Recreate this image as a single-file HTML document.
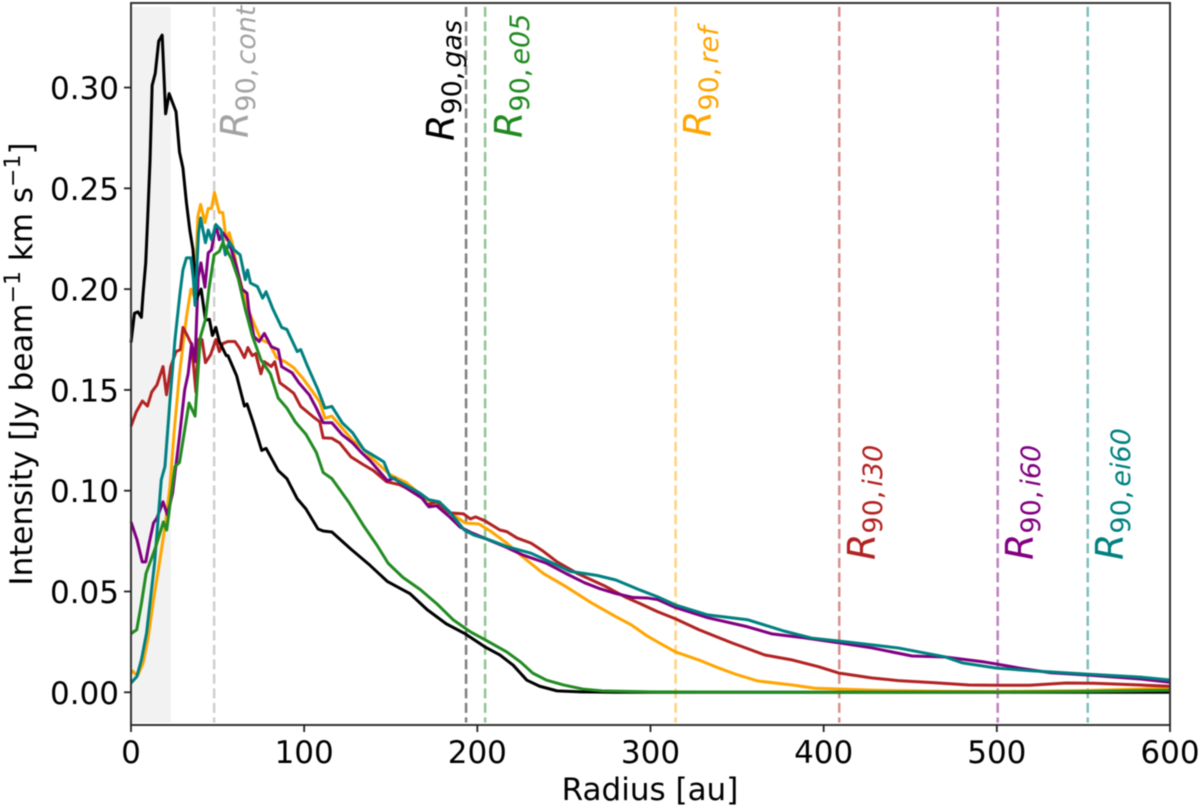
<!DOCTYPE html>
<html>
<head>
<meta charset="utf-8">
<title>Intensity radial profiles</title>
<style>
html,body{margin:0;padding:0;background:#fff;}
svg{display:block;font-family:"DejaVu Sans","Liberation Sans",sans-serif;filter:blur(0.4px);}
</style>
</head>
<body>
<svg id="chart" width="1200" height="808" viewBox="0 0 1200 808" xmlns="http://www.w3.org/2000/svg">
  <rect width="1200" height="808" fill="#fff"/>
  <g id="band"></g>
  <g id="vlines"></g>
  <g id="series"></g>
  <g id="spines"></g>
  <g id="xticks"></g>
  <g id="yticks"></g>

  <text x="650" y="800" font-size="31" text-anchor="middle" fill="#000">Radius [au]</text>
  <text transform="translate(32,364) rotate(-90)" font-size="31" text-anchor="middle" fill="#000">Intensity [Jy beam<tspan font-size="22" dy="-12">−1</tspan><tspan dy="12"> km s</tspan><tspan font-size="22" dy="-12">−1</tspan><tspan dy="12">]</tspan></text>

  <text transform="translate(248,138) rotate(-90)" fill="#a3a3a3" font-size="38"><tspan font-style="italic">R</tspan><tspan font-size="27" dy="7">90,</tspan><tspan font-size="27" font-style="italic" dx="4">cont</tspan></text>
  <text transform="translate(454,141) rotate(-90)" fill="#000" font-size="38"><tspan font-style="italic">R</tspan><tspan font-size="27" dy="7">90,</tspan><tspan font-size="27" font-style="italic" dx="4">gas</tspan></text>
  <text transform="translate(522,138) rotate(-90)" fill="#1f8a1f" font-size="38"><tspan font-style="italic">R</tspan><tspan font-size="27" dy="7">90,</tspan><tspan font-size="27" font-style="italic" dx="4">e05</tspan></text>
  <text transform="translate(711,137) rotate(-90)" fill="#ffa500" font-size="38"><tspan font-style="italic">R</tspan><tspan font-size="27" dy="7">90,</tspan><tspan font-size="27" font-style="italic" dx="4">ref</tspan></text>
  <text transform="translate(875,560) rotate(-90)" fill="#b22222" font-size="38"><tspan font-style="italic">R</tspan><tspan font-size="27" dy="7">90,</tspan><tspan font-size="27" font-style="italic" dx="4">i30</tspan></text>
  <text transform="translate(1033,560) rotate(-90)" fill="#800080" font-size="38"><tspan font-style="italic">R</tspan><tspan font-size="27" dy="7">90,</tspan><tspan font-size="27" font-style="italic" dx="4">i60</tspan></text>
  <text transform="translate(1123,560) rotate(-90)" fill="#008080" font-size="38"><tspan font-style="italic">R</tspan><tspan font-size="27" dy="7">90,</tspan><tspan font-size="27" font-style="italic" dx="4">ei60</tspan></text>
</svg>
<script>
const xTickValues = [0, 100, 200, 300, 400, 500, 600];
const yTickValues = [0, 0.05, 0.10, 0.15, 0.20, 0.25, 0.30];
const yTickLabels = ['0.00', '0.05', '0.10', '0.15', '0.20', '0.25', '0.30'];

const bandEndRadius = 23;
const r90Cont = 48;
const r90Gas = 193.5;
const r90E05 = 204.5;
const r90Ref = 314.5;
const r90I30 = 409;
const r90I60 = 500.5;
const r90Ei60 = 552.5;

const blackRadius = [0,2,4,6,7,8.5,9.6,11,12.2,14,16,18,20,22,26,28,30,32,34,35.8,37.7,40.5,43,45.3,47,49,51,55,56,61,65.5,67,70.5,75.5,78,85,90,96,101,108,111,116,127,138,148,161,171,182,193,204.4,213,220.6,228.6,236,246,260,280,600];
const blackIntensity = [0.1735,0.188,0.1887,0.186,0.198,0.213,0.2345,0.264,0.301,0.307,0.323,0.326,0.287,0.297,0.288,0.268,0.26,0.243,0.229,0.2195,0.195,0.2,0.1847,0.185,0.177,0.181,0.174,0.167,0.167,0.157,0.142,0.143,0.134,0.120,0.121,0.110,0.106,0.096,0.091,0.081,0.080,0.0795,0.071,0.063,0.055,0.049,0.041,0.034,0.029,0.0225,0.0185,0.0135,0.006,0.003,0.0007,0.0002,0,0];

const greenRadius = [0,1.5,3.3,6,8.7,14,18.7,20.6,25.4,28,33.5,37,40,43,45,48,51,53,58,62,66,70,75,80.5,85,90,95,101,107,111,116,126,134,142,148.5,157,167,176.5,186,196,204.5,217,225,232,240,250,261,272,300,400,500,550,600];
const greenIntensity = [0.029,0.030,0.031,0.044,0.059,0.0715,0.0845,0.0805,0.112,0.114,0.1435,0.137,0.176,0.185,0.2,0.217,0.2187,0.223,0.215,0.205,0.19,0.177,0.165,0.158,0.146,0.141,0.134,0.128,0.119,0.109,0.106,0.094,0.083,0.073,0.064,0.057,0.051,0.044,0.036,0.030,0.026,0.020,0.015,0.0095,0.006,0.0036,0.0016,0.0007,0.0002,0,0.0001,0.0004,0.001];

const orangeRadius = [0,1,2,4,7,10,13,16.7,19.6,22.5,25,28,32,34.6,36.7,38.6,40.2,42.7,44.6,46.5,48.2,51,53,55,56.7,59,61,65,66,70,75,80,84,89,94,99,105,109,112,116,123,128,134,138,149.5,159,171,182,193,201,208,217,226,238,251,266,280,289,298,304,314.5,328,339.5,349,362,382,395,409,430,470,500,550,600];
const orangeIntensity = [0.0097,0.0105,0.0095,0.0085,0.0145,0.0275,0.046,0.0657,0.082,0.102,0.13,0.158,0.186,0.2,0.196,0.236,0.242,0.233,0.24,0.24,0.248,0.238,0.238,0.2245,0.228,0.221,0.211,0.198,0.193,0.185,0.175,0.173,0.166,0.164,0.161,0.156,0.149,0.144,0.136,0.137,0.130,0.125,0.121,0.117,0.108,0.104,0.0955,0.0905,0.084,0.0835,0.0797,0.074,0.0673,0.059,0.0525,0.0443,0.0375,0.0334,0.028,0.025,0.020,0.016,0.012,0.009,0.0056,0.0036,0.002,0.0016,0.001,0.0005,0.0004,0.0008,0.002];

const redRadius = [0,3,6.6,9.5,12,15,18.5,20.5,23,26,28.5,30,32.5,35,37.5,39,41,43,46,49,51,53,56,60,62.5,65.5,67.5,70,72,75,77,81,83,86,90,94,98,105,109,111,116,120.5,127,134,140,147.5,155,167,171,176.5,184,192,196,199,204.5,213,217,223,231,238,246,257.6,273,286,294,304,314.5,328,347,366,382,397,409,428,443,463,484,500,519,540,556,583,600];
const redIntensity = [0.132,0.139,0.1445,0.142,0.149,0.1525,0.1616,0.1476,0.1616,0.169,0.17,0.181,0.177,0.1725,0.149,0.175,0.175,0.1635,0.1675,0.175,0.169,0.173,0.174,0.174,0.171,0.166,0.171,0.167,0.168,0.158,0.164,0.1616,0.164,0.1535,0.151,0.1483,0.1418,0.1368,0.1342,0.1262,0.126,0.1237,0.1168,0.113,0.11,0.1045,0.103,0.098,0.093,0.0945,0.089,0.0885,0.086,0.087,0.085,0.0805,0.0797,0.0765,0.074,0.07,0.0647,0.059,0.053,0.047,0.044,0.040,0.0364,0.031,0.0245,0.0185,0.016,0.0127,0.0095,0.0071,0.0058,0.0048,0.0036,0.0035,0.0035,0.0046,0.0045,0.0036,0.003];

const purpleRadius = [0,3.5,6.5,8.5,10.5,13,15,18.5,21,24,28,31,33,35,37,38.8,40.4,42.7,44.6,46.5,49,51,53,56,58,61,64,67,68,71,74,77,81,85,87,93,97,103,107,111,116,122,128,133,138,148,152,159,168,172,176.5,184,190,197,204,215,226.6,240,251,262,271,280,290,298,304,314.5,333,356,370,389,409,428,451,470,493,500,513,531,552,583,600];
const purpleIntensity = [0.0845,0.0756,0.0647,0.0647,0.074,0.084,0.0865,0.0945,0.088,0.0988,0.127,0.15,0.158,0.173,0.164,0.206,0.213,0.201,0.218,0.2195,0.232,0.2245,0.228,0.2245,0.2195,0.211,0.2,0.198,0.19,0.1765,0.174,0.178,0.1715,0.17,0.1615,0.1585,0.1535,0.1475,0.141,0.1337,0.1337,0.1277,0.1237,0.119,0.115,0.105,0.1062,0.1013,0.0963,0.092,0.0925,0.087,0.082,0.079,0.0765,0.0726,0.068,0.064,0.059,0.0543,0.0513,0.049,0.047,0.0468,0.046,0.042,0.037,0.0325,0.029,0.027,0.0245,0.022,0.018,0.0175,0.015,0.014,0.012,0.0097,0.0086,0.0066,0.005];

const tealRadius = [0,3.3,6,9,11.6,13.6,17.5,19.6,22.4,25.4,28.3,30,32,34.6,36,37,38,39,40.2,43,44.6,46.5,49,52,54.5,56.7,59.5,63,66,67.3,69,73,76,78,82,87,90,96,98,102,108,112,116,122,128,134.5,139,146,149.5,155,167,172,178,184,192.5,198,207,217,231,242,253.6,269,280,294,304,314.5,333,356,377,393,413,443,470,480,500,521,552,583,600];
const tealIntensity = [0.0046,0.0077,0.016,0.0295,0.049,0.064,0.1055,0.112,0.1436,0.175,0.198,0.2095,0.2155,0.2155,0.205,0.192,0.21,0.228,0.2353,0.223,0.2293,0.2245,0.232,0.2293,0.217,0.2235,0.2195,0.217,0.2047,0.2095,0.203,0.2013,0.1955,0.1987,0.19,0.181,0.18,0.169,0.17,0.1616,0.15,0.141,0.1418,0.1337,0.1287,0.1203,0.118,0.1143,0.107,0.1045,0.0987,0.0955,0.0945,0.0895,0.0805,0.078,0.0756,0.0723,0.069,0.0647,0.06,0.058,0.0557,0.0507,0.0474,0.0433,0.0384,0.036,0.0304,0.0269,0.025,0.022,0.0176,0.0146,0.012,0.0106,0.009,0.0075,0.0061];

const svgNS = 'http://www.w3.org/2000/svg';
const plotLeft = 131, plotRight = 1170, plotTop = 3, plotBottom = 725;
const xMin = 0, xMax = 600, yMin = -0.01623, yMax = 0.34194;
function xScale(v){ return plotLeft + (v - xMin) / (xMax - xMin) * (plotRight - plotLeft); }
function yScale(v){ return plotBottom - (v - yMin) / (yMax - yMin) * (plotBottom - plotTop); }
function mk(tag, parentId){
  const el = document.createElementNS(svgNS, tag);
  document.getElementById(parentId).appendChild(el);
  return el;
}

const bandRect = mk('rect', 'band');


bandRect.setAttribute('x', xScale(0));
bandRect.setAttribute('y', yScale(0.34));
bandRect.setAttribute('width', xScale(bandEndRadius) - xScale(0));
bandRect.setAttribute('height', yScale(-0.015) - yScale(0.34));
bandRect.setAttribute('fill', '#f2f2f2');

function addVline(value, color, name){
  const l = mk('line', 'vlines');
  
  
  l.setAttribute('x1', xScale(value));
  l.setAttribute('x2', xScale(value));
  l.setAttribute('y1', yScale(0.34));
  l.setAttribute('y2', yScale(-0.015));
  l.setAttribute('stroke', color);
  l.setAttribute('stroke-opacity', '0.5');
  l.setAttribute('stroke-width', '2.5');
  l.setAttribute('stroke-dasharray', '10 4.5');
}
addVline(r90Cont, '#a0a0a0', 'r90-cont-line');
addVline(r90Gas, '#000000', 'r90-gas-line');
addVline(r90E05, '#228b22', 'r90-e05-line');
addVline(r90Ref, '#ffa500', 'r90-ref-line');
addVline(r90I30, '#b22222', 'r90-i30-line');
addVline(r90I60, '#800080', 'r90-i60-line');
addVline(r90Ei60, '#008080', 'r90-ei60-line');

function addSeries(radius, intensity, color, name){
  const p = mk('polyline', 'series');
  
  
  p.setAttribute('points', radius.map(function(r, i){ return xScale(r).toFixed(2) + ',' + yScale(intensity[i]).toFixed(2); }).join(' '));
  p.setAttribute('fill', 'none');
  p.setAttribute('stroke', color);
  p.setAttribute('stroke-width', '3');
  p.setAttribute('stroke-linejoin', 'round');
}
addSeries(orangeRadius, orangeIntensity, '#ffa500', 'series-ref');
addSeries(redRadius, redIntensity, '#b22222', 'series-i30');
addSeries(purpleRadius, purpleIntensity, '#800080', 'series-i60');
addSeries(blackRadius, blackIntensity, '#000000', 'series-gas');
addSeries(tealRadius, tealIntensity, '#008080', 'series-ei60');
addSeries(greenRadius, greenIntensity, '#228b22', 'series-e05');

const frame = mk('rect', 'spines');


frame.setAttribute('x', plotLeft);
frame.setAttribute('y', plotTop);
frame.setAttribute('width', plotRight - plotLeft);
frame.setAttribute('height', plotBottom - plotTop);
frame.setAttribute('fill', 'none');
frame.setAttribute('stroke', '#333');
frame.setAttribute('stroke-width', '2');

xTickValues.forEach(function(v){
  const t = mk('line', 'xticks');
  
  
  t.setAttribute('x1', xScale(v));
  t.setAttribute('x2', xScale(v));
  t.setAttribute('y1', plotBottom);
  t.setAttribute('y2', plotBottom + 7);
  t.setAttribute('stroke', '#222');
  t.setAttribute('stroke-width', '1.8');
  const label = mk('text', 'xticks');
  
  
  label.setAttribute('x', xScale(v));
  label.setAttribute('y', 763);
  label.setAttribute('font-size', '31');
  label.setAttribute('text-anchor', 'middle');
  label.textContent = String(v);
});

yTickValues.forEach(function(v, i){
  const t = mk('line', 'yticks');
  
  
  t.setAttribute('x1', plotLeft - 7);
  t.setAttribute('x2', plotLeft);
  t.setAttribute('y1', yScale(v));
  t.setAttribute('y2', yScale(v));
  t.setAttribute('stroke', '#222');
  t.setAttribute('stroke-width', '1.8');
  const label = mk('text', 'yticks');
  
  
  label.setAttribute('x', 119);
  label.setAttribute('y', yScale(v) + 11.5);
  label.setAttribute('font-size', '31');
  label.setAttribute('text-anchor', 'end');
  label.textContent = yTickLabels[i];
});
</script>
</body>
</html>
